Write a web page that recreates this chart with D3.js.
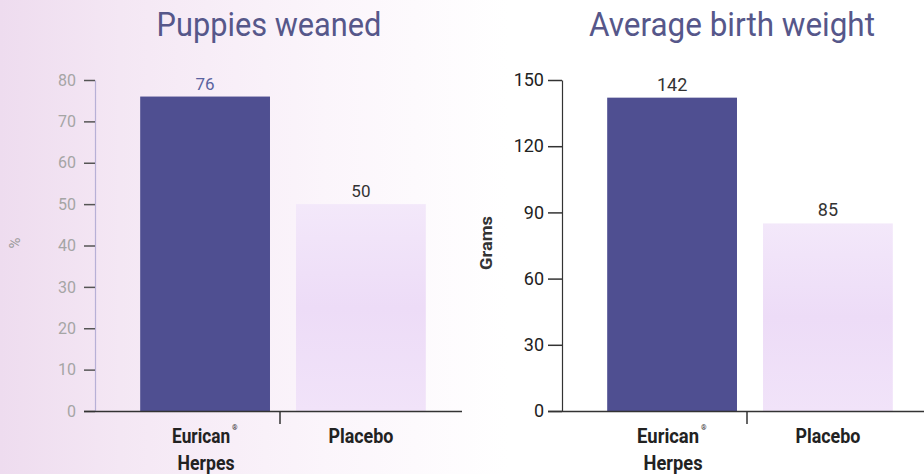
<!DOCTYPE html>
<html>
<head>
<meta charset="utf-8">
<script src="https://cdn.jsdelivr.net/npm/d3@7"></script>
<style>
  body { margin: 0; background: #fff; }
  svg { display: block; }
  text { font-family: "Liberation Sans Narrow", Roboto, "Liberation Sans", Arial, sans-serif; }
</style>
</head>
<body>
<svg id="chart" width="924" height="474"></svg>
<script>
// data
var categories = ["Eurican", "Placebo"];
var weanedValues = [76, 50];
var weightValues = [142, 85];
var weanedTicks = [0, 10, 20, 30, 40, 50, 60, 70, 80];
var weightTicks = [0, 30, 60, 90, 120, 150];

var svg = d3.select("#chart");
var W = 924, H = 474;

// soft pink wash on the left, like the scanned brochure
var defs = svg.append("defs");
var bg = defs.append("linearGradient").attr("id", "bg").attr("x1", 0).attr("x2", 1).attr("y1", 0).attr("y2", 0);
bg.append("stop").attr("offset", "0%").attr("stop-color", "#eedcef");
bg.append("stop").attr("offset", "13%").attr("stop-color", "#f4e7f4");
bg.append("stop").attr("offset", "35%").attr("stop-color", "#fbf5fb");
bg.append("stop").attr("offset", "55%").attr("stop-color", "#ffffff");
svg.append("rect").attr("width", W).attr("height", H).attr("fill", "url(#bg)");

var lightBar = defs.append("linearGradient").attr("id", "light").attr("x1", 0).attr("x2", 0).attr("y1", 0).attr("y2", 1);
lightBar.append("stop").attr("offset", "0%").attr("stop-color", "#f3e8fa");
lightBar.append("stop").attr("offset", "50%").attr("stop-color", "#eddcf7");
lightBar.append("stop").attr("offset", "100%").attr("stop-color", "#f1e3f9");

var barColors = ["#4f4f91", "url(#light)"];

// condensed label: the print font is narrow, so scale the text horizontally to its width in the scan
function narrowText(parent, str, cx, y, size, weight, fill, width) {
  var g = parent.append("g");
  var t = g.append("text").attr("text-anchor", "middle")
    .attr("font-size", size).attr("font-weight", weight).attr("fill", fill).text(str);
  var s = width / t.node().getComputedTextLength();
  g.attr("transform", "translate(" + cx + "," + y + ") scale(" + s + ",1)");
  return g;
}

function drawPanel(opts) {
  var g = svg.append("g");

  var y = d3.scaleLinear().domain(opts.domain).range([411, 80]);
  var x = d3.scaleBand().domain(categories)
    .range(opts.xRange).paddingInner(0.167).paddingOuter(0.29);

  // title
  narrowText(g, opts.title, opts.titleX, 36, 33, "normal", "#56578a", opts.titleLen);

  // bars
  g.selectAll("rect.bar").data(opts.values).enter()
    .append("rect").attr("class", "bar")
    .attr("x", function(d, i) { return x(categories[i]); })
    .attr("y", function(d) { return y(d); })
    .attr("width", x.bandwidth())
    .attr("height", function(d) { return y(0) - y(d); })
    .attr("fill", function(d, i) { return barColors[i]; });

  // value labels
  g.selectAll("text.val").data(opts.values).enter()
    .append("text").attr("class", "val")
    .attr("x", function(d, i) { return x(categories[i]) + x.bandwidth() / 2; })
    .attr("y", function(d) { return y(d) - 7; })
    .attr("text-anchor", "middle")
    .attr("font-size", opts.valSize)
    .attr("fill", function(d, i) { return i == 0 ? opts.firstValColor : "#333"; })
    .text(function(d) { return d; });

  // y axis
  var axis = d3.axisLeft(y).tickValues(opts.ticks).tickSize(opts.tickLen).tickSizeOuter(0).tickPadding(opts.tickPad);
  var ax = g.append("g").attr("transform", "translate(" + opts.xRange[0] + ",0)").call(axis);
  ax.select(".domain").attr("stroke", opts.axisColor).attr("stroke-width", 1.2);
  ax.selectAll(".tick line").attr("stroke", opts.tickColor).attr("stroke-width", 1.5);
  ax.selectAll(".tick text")
    .attr("font-family", "Roboto, 'Liberation Sans', Arial, sans-serif")
    .attr("font-size", opts.tickSize)
    .attr("fill", opts.tickTextColor);

  // x baseline with the divider tick
  g.append("line")
    .attr("x1", opts.xRange[0] - opts.tickLen).attr("x2", opts.lineEnd)
    .attr("y1", y(0) + 0.5).attr("y2", y(0) + 0.5)
    .attr("stroke", "#333").attr("stroke-width", 1.6);
  var mid = x(categories[1]) - x.step() * x.paddingInner() / 2 - 3;
  g.append("line")
    .attr("x1", mid).attr("x2", mid)
    .attr("y1", y(0)).attr("y2", y(0) + 13)
    .attr("stroke", "#333").attr("stroke-width", 1.5);

  // category labels
  var c1 = x(categories[0]) + x.bandwidth() / 2;
  var c2 = x(categories[1]) + x.bandwidth() / 2;
  var eLen = opts.euricanLen;
  narrowText(g, "Eurican", c1 - 4, 443, 20, "bold", "#222", eLen);
  g.append("text").attr("x", c1 - 4 + eLen / 2 + 2).attr("y", 430)
    .attr("font-size", 7).attr("font-weight", "bold").attr("fill", "#333").text("®");
  narrowText(g, "Herpes", c1 + 1, 470, 20, "bold", "#222", opts.herpesLen);
  narrowText(g, "Placebo", c2, 443, 20, "bold", "#222", 65);

  // y label
  var yl = g.append("g").attr("transform", "translate(" + opts.yLabelX + ",243) rotate(-90)");
  narrowText(yl, opts.yLabel, 0, 0, opts.yLabelSize, opts.yLabelWeight, opts.yLabelColor, opts.yLabelLen);
}

drawPanel({
  title: "Puppies weaned", titleX: 269, titleLen: 225,
  values: weanedValues, domain: [0, 80], ticks: weanedTicks,
  xRange: [95, 471], lineEnd: 462,
  tickLen: 11, tickPad: 8, tickSize: 16,
  axisColor: "#b7b0d6", tickColor: "#555", tickTextColor: "#a5a5a5",
  valSize: 17, firstValColor: "#5a63a0",
  euricanLen: 58, herpesLen: 57,
  yLabel: "%", yLabelX: 20, yLabelSize: 15, yLabelWeight: "normal", yLabelColor: "#999", yLabelLen: 11
});

drawPanel({
  title: "Average birth weight", titleX: 732, titleLen: 286,
  values: weightValues, domain: [0, 150], ticks: weightTicks,
  xRange: [562, 938], lineEnd: 924,
  tickLen: 14, tickPad: 4, tickSize: 18,
  axisColor: "#333", tickColor: "#333", tickTextColor: "#222",
  valSize: 18, firstValColor: "#333",
  euricanLen: 62, herpesLen: 59,
  yLabel: "Grams", yLabelX: 492, yLabelSize: 17, yLabelWeight: "bold", yLabelColor: "#333", yLabelLen: 54
});
</script>
</body>
</html>
